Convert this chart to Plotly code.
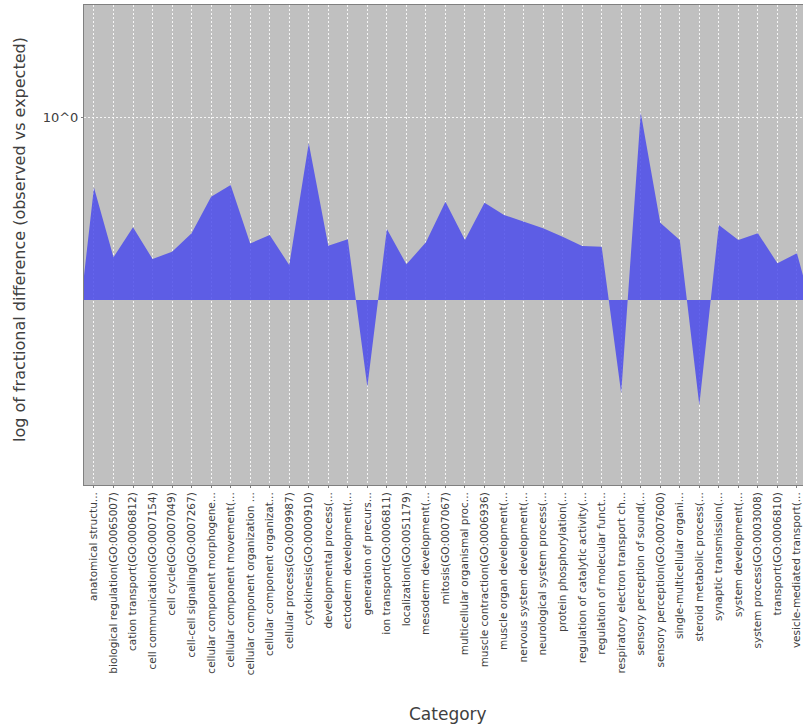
import math
import plotly.graph_objects as go

categories = [
    "anatomical structu...",
    "biological regulation(GO:0065007)",
    "cation transport(GO:0006812)",
    "cell communication(GO:0007154)",
    "cell cycle(GO:0007049)",
    "cell-cell signaling(GO:0007267)",
    "cellular component morphogene...",
    "cellular component movement(...",
    "cellular component organization ...",
    "cellular component organizat...",
    "cellular process(GO:0009987)",
    "cytokinesis(GO:0000910)",
    "developmental process(...",
    "ectoderm development(...",
    "generation of precurs...",
    "ion transport(GO:0006811)",
    "localization(GO:0051179)",
    "mesoderm development(...",
    "mitosis(GO:0007067)",
    "multicellular organismal proc...",
    "muscle contraction(GO:0006936)",
    "muscle organ development(...",
    "nervous system development(...",
    "neurological system process(...",
    "protein phosphorylation(...",
    "regulation of catalytic activity(...",
    "regulation of molecular funct...",
    "respiratory electron transport ch...",
    "sensory perception of sound(...",
    "sensory perception(GO:0007600)",
    "single-multicellular organi...",
    "steroid metabolic process(...",
    "synaptic transmission(...",
    "system development(...",
    "system process(GO:0003008)",
    "transport(GO:0006810)",
    "vesicle-mediated transport(...",
]

# fractional difference (observed vs expected)
frac_diff = [
    0.538, 0.180, 0.323, 0.172, 0.205, 0.293, 0.485, 0.552, 0.244, 0.285,
    0.145, 0.814, 0.233, 0.264, -0.395, 0.314, 0.148, 0.249, 0.457, 0.260,
    0.452, 0.386, 0.351, 0.318, 0.276, 0.232, 0.228, -0.430, 1.032, 0.346,
    0.260, -0.495, 0.334, 0.260, 0.293, 0.153, 0.198,
]

y_tick_values = [1.0]
y_tick_labels = ["10^0"]


def log_axis(v):
    # symmetric logarithmic axis that allows negative values
    s = -1.0 if v < 0 else 1.0
    a = abs(v)
    if a < 10:
        a = a + (10 - a) / 10.0
    return s * math.log10(a)


TAPER = 0.65  # area tapers to zero beyond the first/last category
n = len(categories)
xs = [-TAPER] + list(range(n)) + [n - 1 + TAPER]
ys = [0.0] + [log_axis(v) for v in frac_diff] + [0.0]

fig = go.Figure()
fig.add_trace(go.Scatter(
    x=xs, y=ys, mode="lines", fill="tozeroy",
    line=dict(width=0, color="rgba(75,75,235,0.85)"),
    fillcolor="rgba(75,75,235,0.85)",
    hoverinfo="skip", showlegend=False,
))

fig.update_layout(
    width=803, height=727,
    margin=dict(l=84, r=0, t=5, b=242, autoexpand=False),
    paper_bgcolor="white",
    plot_bgcolor="#c0c0c0",
    font=dict(family="DejaVu Sans", color="#404040"),
    xaxis=dict(
        range=[-0.51, 36.31],
        tickmode="array",
        tickvals=list(range(n)),
        ticktext=categories,
        tickangle=-90,
        tickfont=dict(size=10.5, color="#404040"),
        ticklabeloverflow="allow",
        ticks="outside", ticklen=2, tickcolor="#808080",
        showgrid=True, gridcolor="rgba(255,255,255,0.85)", gridwidth=1,
        griddash="2px,2px",
        showline=True, linecolor="#808080", linewidth=1, mirror=True,
        zeroline=False, automargin=False,
    ),
    yaxis=dict(
        range=[-0.2818, 0.4494],
        tickmode="array",
        tickvals=[log_axis(v) for v in y_tick_values],
        ticktext=y_tick_labels,
        tickfont=dict(size=13, color="#404040"),
        ticks="outside", ticklen=2, tickcolor="#808080",
        showgrid=True, gridcolor="rgba(255,255,255,0.85)", gridwidth=1,
        griddash="2px,2px",
        showline=True, linecolor="#808080", linewidth=1, mirror=True,
        zeroline=False, automargin=False,
    ),
    annotations=[
        dict(text="log of fractional difference (observed vs expected)",
             xref="paper", yref="paper", x=(19 - 84) / 719, y=(485 - 240) / 480,
             xanchor="center", yanchor="middle", textangle=-90, showarrow=False,
             font=dict(size=16, color="#404040")),
        dict(text="Category",
             xref="paper", yref="paper", x=(448 - 84) / 719, y=(485 - 714) / 480,
             xanchor="center", yanchor="middle", showarrow=False,
             font=dict(size=17, color="#404040")),
    ],
)

fig.write_html(
    "out.html",
    config={"displayModeBar": False},
    post_script="document.body.style.margin='0';document.body.style.padding='0';",
)
